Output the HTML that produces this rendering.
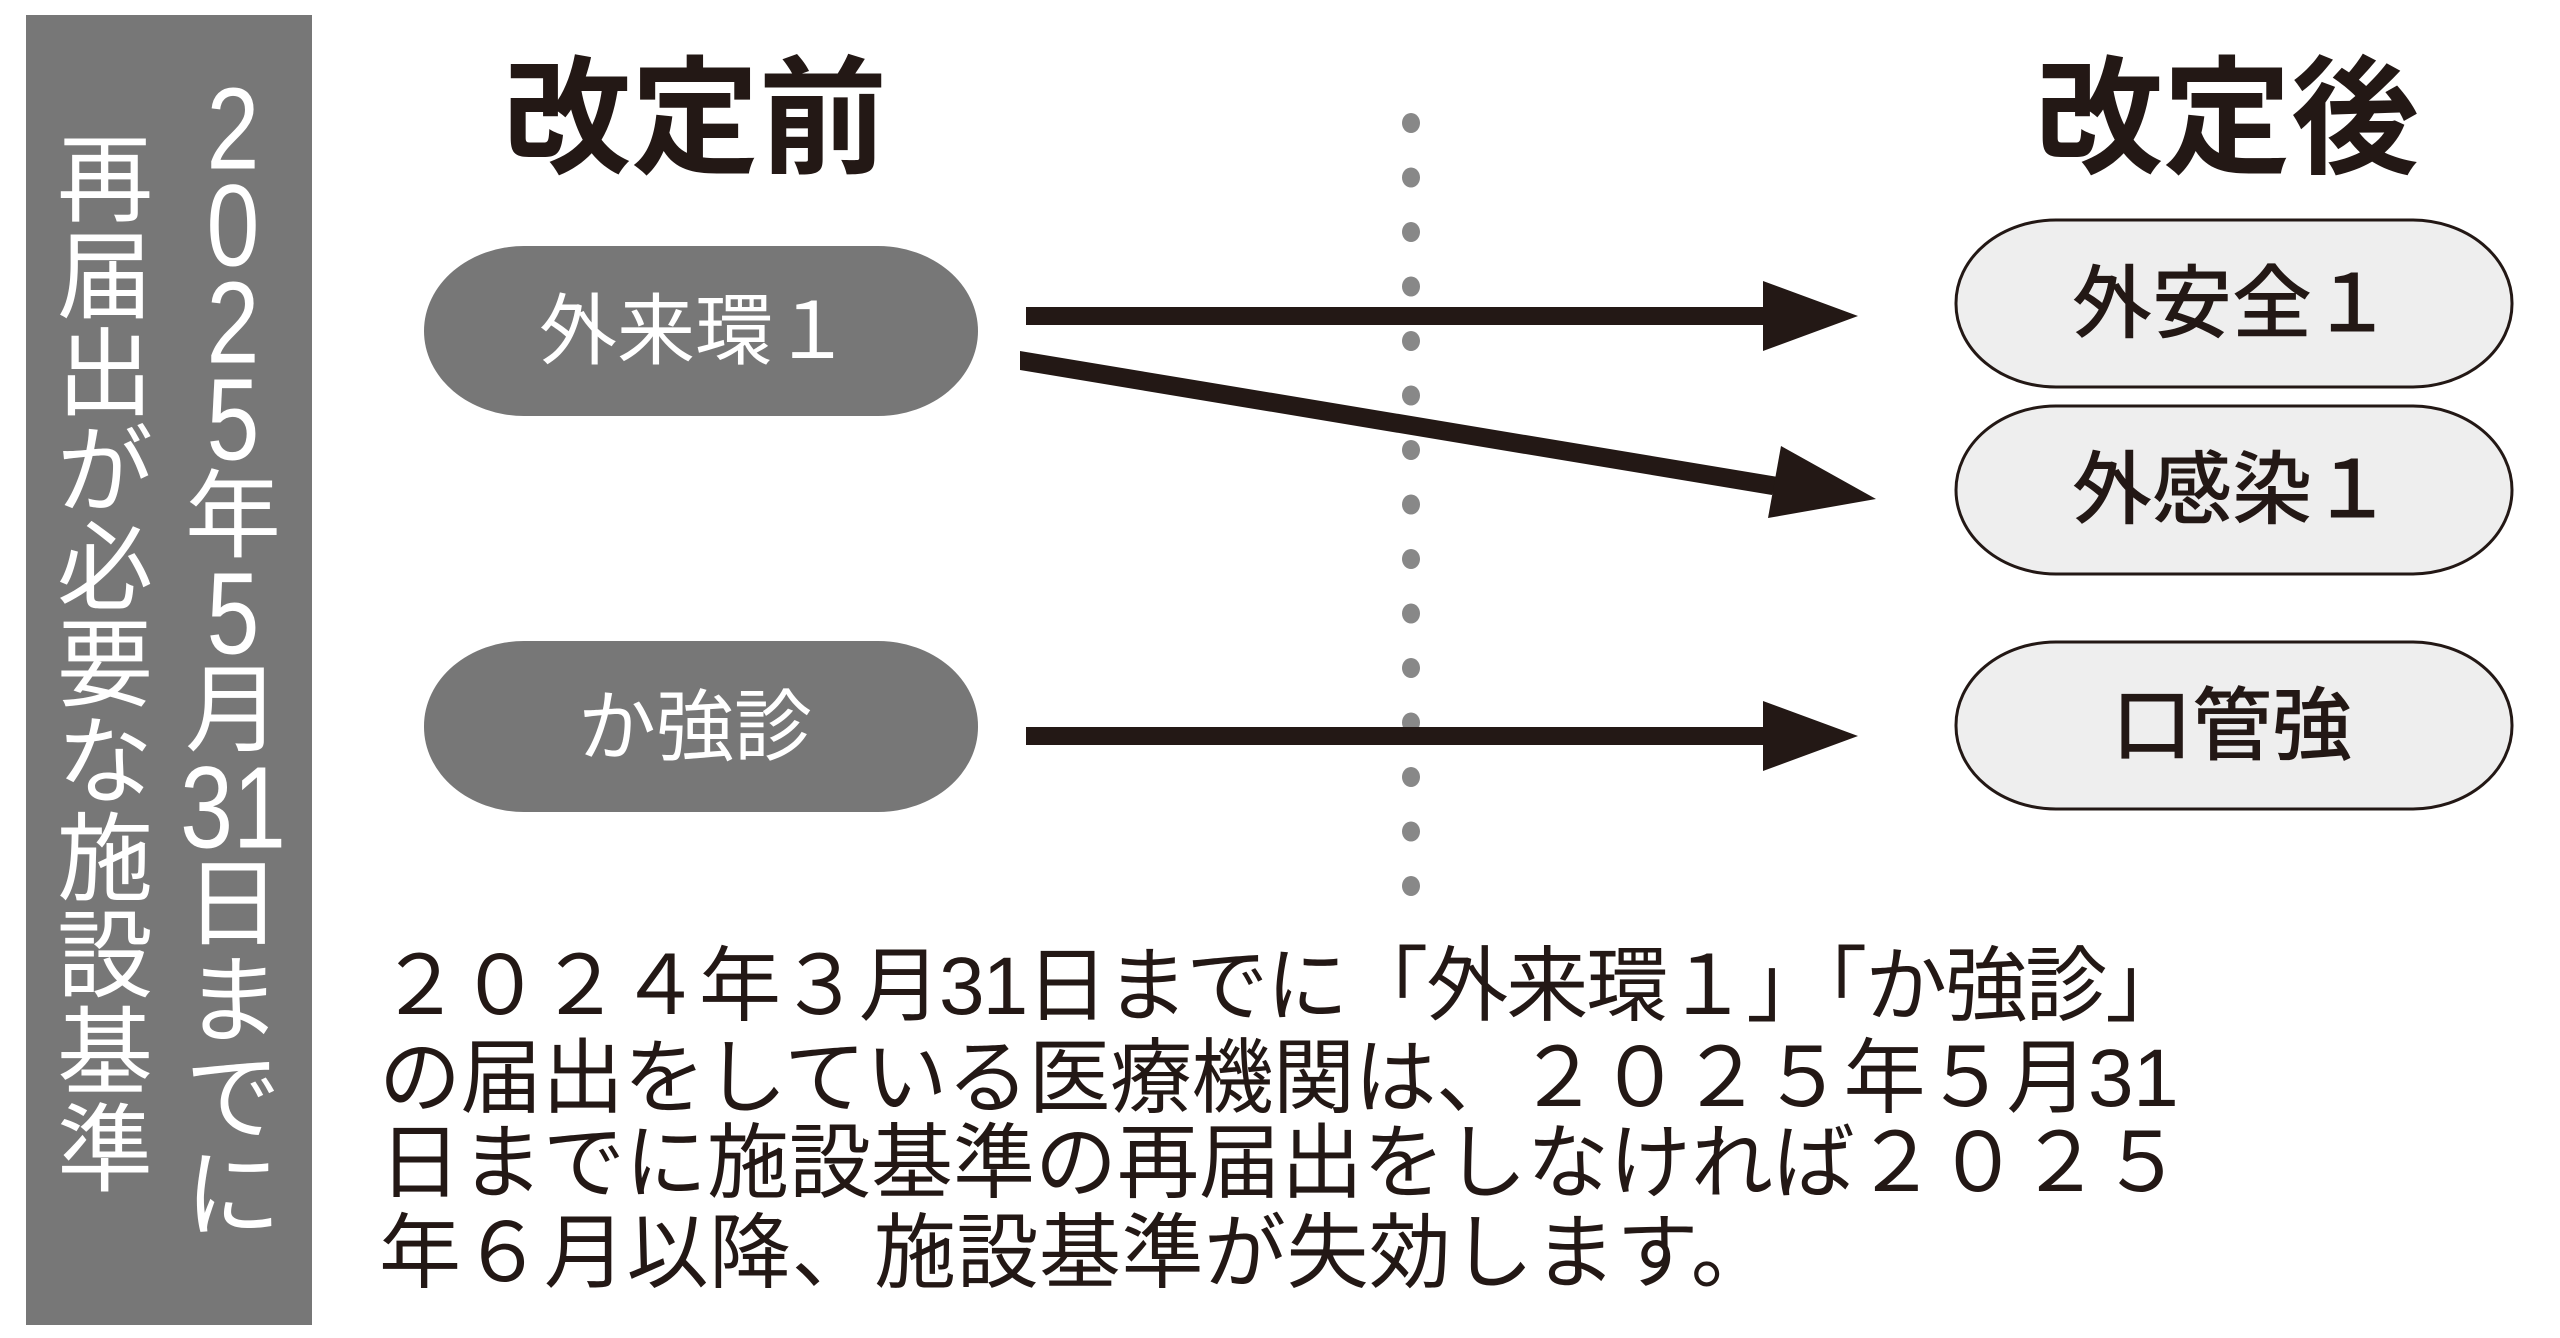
<!DOCTYPE html>
<html><head><meta charset="utf-8"><style>
html,body{margin:0;padding:0;background:#fff;}
svg{display:block;}
text{font-family:"Liberation Sans","Noto Sans CJK JP",sans-serif;}
</style></head><body>
<svg width="2560" height="1338" viewBox="0 0 2560 1338" xmlns="http://www.w3.org/2000/svg">
<rect x="0" y="0" width="2560" height="1338" fill="#fff"/>
<rect x="26" y="15" width="286" height="1310" fill="#777777"/>
<g fill="#fff" font-size="96" text-anchor="middle" dominant-baseline="central">
  <text x="105" y="181">再</text>
  <text x="105" y="278">届</text>
  <text x="105" y="375">出</text>
  <text x="105" y="472">が</text>
  <text x="105" y="569">必</text>
  <text x="105" y="666">要</text>
  <text x="105" y="763">な</text>
  <text x="105" y="860">施</text>
  <text x="105" y="957">設</text>
  <text x="105" y="1054">基</text>
  <text x="105" y="1151">準</text>
</g>
<g fill="#fff" text-anchor="middle" dominant-baseline="central">
  <g font-size="116" transform="translate(233,0) scale(0.82,1)">
    <text x="0" y="129">2</text>
    <text x="0" y="226">0</text>
    <text x="0" y="323">2</text>
    <text x="0" y="420">5</text>
    <text x="0" y="614">5</text>
    <text x="0" y="808">31</text>
  </g>
  <g font-size="96">
    <text x="233" y="517">年</text>
    <text x="233" y="711">月</text>
    <text x="233" y="905">日</text>
    <text x="233" y="1002">ま</text>
    <text x="233" y="1099">で</text>
    <text x="233" y="1196">に</text>
  </g>
</g>
<g fill="#231815" font-size="128" font-weight="bold" text-anchor="middle">
  <text x="695" y="163">改定前</text>
  <text x="2227" y="163">改定後</text>
</g>
<g fill="#888">
  <ellipse cx="1411" cy="123" rx="9" ry="10"/><ellipse cx="1411" cy="177.5" rx="9" ry="10"/>
  <ellipse cx="1411" cy="232" rx="9" ry="10"/><ellipse cx="1411" cy="286.5" rx="9" ry="10"/>
  <ellipse cx="1411" cy="341" rx="9" ry="10"/><ellipse cx="1411" cy="395.5" rx="9" ry="10"/>
  <ellipse cx="1411" cy="450" rx="9" ry="10"/><ellipse cx="1411" cy="504.5" rx="9" ry="10"/>
  <ellipse cx="1411" cy="559" rx="9" ry="10"/><ellipse cx="1411" cy="613.5" rx="9" ry="10"/>
  <ellipse cx="1411" cy="668" rx="9" ry="10"/><ellipse cx="1411" cy="722.5" rx="9" ry="10"/>
  <ellipse cx="1411" cy="777" rx="9" ry="10"/><ellipse cx="1411" cy="831.5" rx="9" ry="10"/>
  <ellipse cx="1411" cy="886" rx="9" ry="10"/>
</g>
<rect x="424" y="246" width="554" height="170" rx="100" ry="85" fill="#777777"/>
<rect x="424" y="641" width="554" height="171" rx="100" ry="85" fill="#777777"/>
<g fill="#fff" font-size="78" text-anchor="middle" dominant-baseline="central">
  <text x="695" y="331">外来環１</text>
  <text x="695" y="727">か強診</text>
</g>
<g fill="#231815">
  <rect x="1026" y="307" width="745" height="18"/>
  <polygon points="1763,281 1858,316 1763,351"/>
  <rect x="1026" y="727" width="745" height="18"/>
  <polygon points="1763,701 1858,736 1763,771"/>
  <polygon points="1020,351 1020,370 1772,495 1778,477"/>
  <polygon points="1781,446 1876,499 1768,518"/>
</g>
<g fill="#eeeeee" stroke="#231815" stroke-width="3">
  <rect x="1956" y="220" width="556" height="167" rx="100" ry="83"/>
  <rect x="1956" y="406" width="556" height="168" rx="100" ry="84"/>
  <rect x="1956" y="642" width="556" height="167" rx="100" ry="83"/>
</g>
<g fill="#231815" font-size="80" font-weight="500" text-anchor="middle" dominant-baseline="central">
  <text x="2232" y="304">外安全１</text>
  <text x="2232" y="490">外感染１</text>
  <text x="2232" y="726">口管強</text>
</g>
<g fill="#231815" font-size="82">
  <text x="379" y="1014" letter-spacing="-2">２０２４年３月31日までに「外来環１」「か強診」</text>
  <text x="379" y="1106" letter-spacing="-0.5">の届出をしている医療機関は、２０２５年５月31</text>
  <text x="379" y="1191" letter-spacing="0">日までに施設基準の再届出をしなければ２０２５</text>
  <text x="379" y="1281" letter-spacing="0.5">年６月以降、施設基準が失効します。</text>
</g>
</svg>
</body></html>
